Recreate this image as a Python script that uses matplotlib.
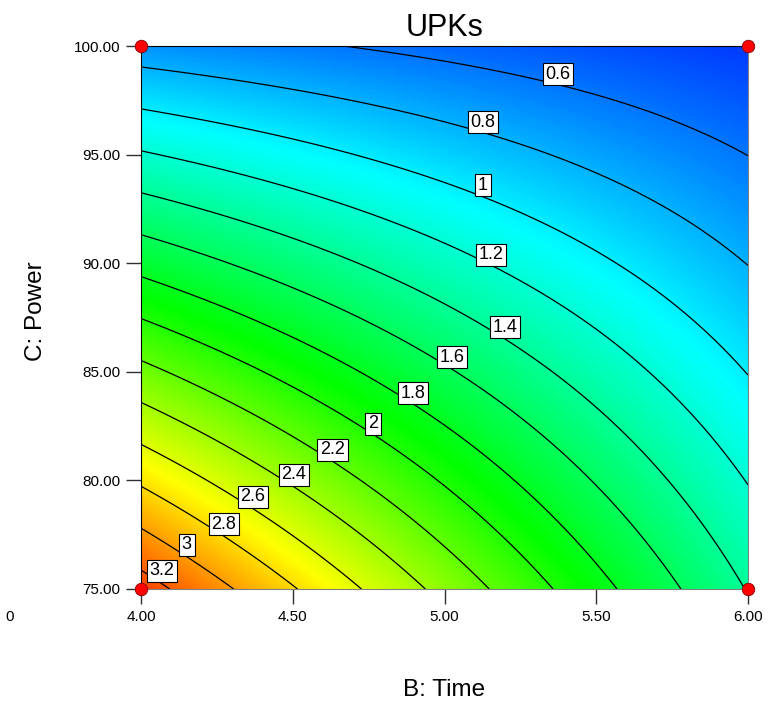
import numpy as np
import matplotlib
matplotlib.use("Agg")
import matplotlib.pyplot as plt
from matplotlib.colors import LinearSegmentedColormap

plt.rcParams['font.family'] = ['Liberation Sans', 'DejaVu Sans']

# factor ranges
b_range = [4.0, 6.0]      # B: Time
c_range = [75.0, 100.0]   # C: Power

# UPKs model in coded factors
# UPKs = b0 + bB*B + bC*C + bBC*B*C
b0 = 1.445
bB = -0.55
bC = -0.895
bBC = 0.40

levels = [0.6, 0.8, 1.0, 1.2, 1.4, 1.6, 1.8, 2.0, 2.2, 2.4, 2.6, 2.8, 3.0, 3.2]

# where the contour labels sit (B, C)
label_pos = [(5.374, 98.71), (5.127, 96.50), (5.127, 93.60), (5.153, 90.38),
             (5.199, 87.06), (5.025, 85.68), (4.896, 84.02), (4.764, 82.60),
             (4.632, 81.40), (4.504, 80.25), (4.369, 79.24), (4.273, 77.99),
             (4.151, 77.03), (4.069, 75.83)]

# design points shown at the corners
design_b = [4.0, 4.0, 6.0, 6.0]
design_c = [75.0, 100.0, 75.0, 100.0]

xticks = [4.0, 4.5, 5.0, 5.5, 6.0]
yticks = [75.0, 80.0, 85.0, 90.0, 95.0, 100.0]

# surface
B = np.linspace(b_range[0], b_range[1], 300)
C = np.linspace(c_range[0], c_range[1], 300)
BB, CC = np.meshgrid(B, C)
xb = (BB - 5.0) / 1.0
xc = (CC - 87.5) / 12.5
Z = b0 + bB * xb + bC * xc + bBC * xb * xc

# blue -> cyan -> green -> yellow -> red
zmin, zmax = 0.2, 3.5
nodes = [0.2, 1.05, 1.9, 2.7, 3.5]
de_cmap = LinearSegmentedColormap.from_list(
    "de", list(zip([(v - zmin) / (zmax - zmin) for v in nodes],
                   ["#0000ff", "#00ffff", "#00ff00", "#ffff00", "#ff0000"])))

fig = plt.figure(figsize=(7.69, 7.04), dpi=100)
ax = fig.add_axes([141 / 769, 1 - 589 / 704, 607 / 769, 543 / 704])

ax.imshow(Z, origin='lower', extent=[4, 6, 75, 100], aspect='auto',
          cmap=de_cmap, vmin=zmin, vmax=zmax, interpolation='bilinear')
cs = ax.contour(BB, CC, Z, levels=levels, colors='black', linewidths=0.9)
texts = ax.clabel(cs, levels, inline=False, fmt='%g', fontsize=13,
                  manual=label_pos)
for t, p in zip(texts, label_pos):
    t.set_rotation(0)
    t.set_position(p)
    t.set_bbox(dict(facecolor='white', edgecolor='black', linewidth=0.8,
                    boxstyle='square,pad=0.16'))
    t.set_zorder(5)

ax.plot(design_b, design_c, 'o', color='red', markeredgecolor='#800000',
        markeredgewidth=0.6, markersize=9, clip_on=False, zorder=10)

ax.set_xlim(b_range)
ax.set_ylim(c_range)
ax.set_xticks(xticks)
ax.set_yticks(yticks)
ax.set_xticklabels(['%.2f' % v for v in xticks])
ax.set_yticklabels(['%.2f' % v for v in yticks])
ax.tick_params(direction='out', length=11, width=1, color='#303030',
               labelsize=11, pad=4)

for s in ['top', 'left']:
    ax.spines[s].set_color('black')
for s in ['right', 'bottom']:
    ax.spines[s].set_color('#808080')

ax.set_title('UPKs', fontsize=22, pad=7)
ax.set_xlabel('B: Time', fontsize=17.5)
ax.set_ylabel('C: Power', fontsize=17.5)
ax.xaxis.set_label_coords(0.5, -0.165)
ax.yaxis.set_label_coords(-0.155, 0.512)

fig.text(5 / 769, 1 - 617 / 704, '0', fontsize=11, ha='left', va='center')

fig.savefig('out.png', dpi=100)
